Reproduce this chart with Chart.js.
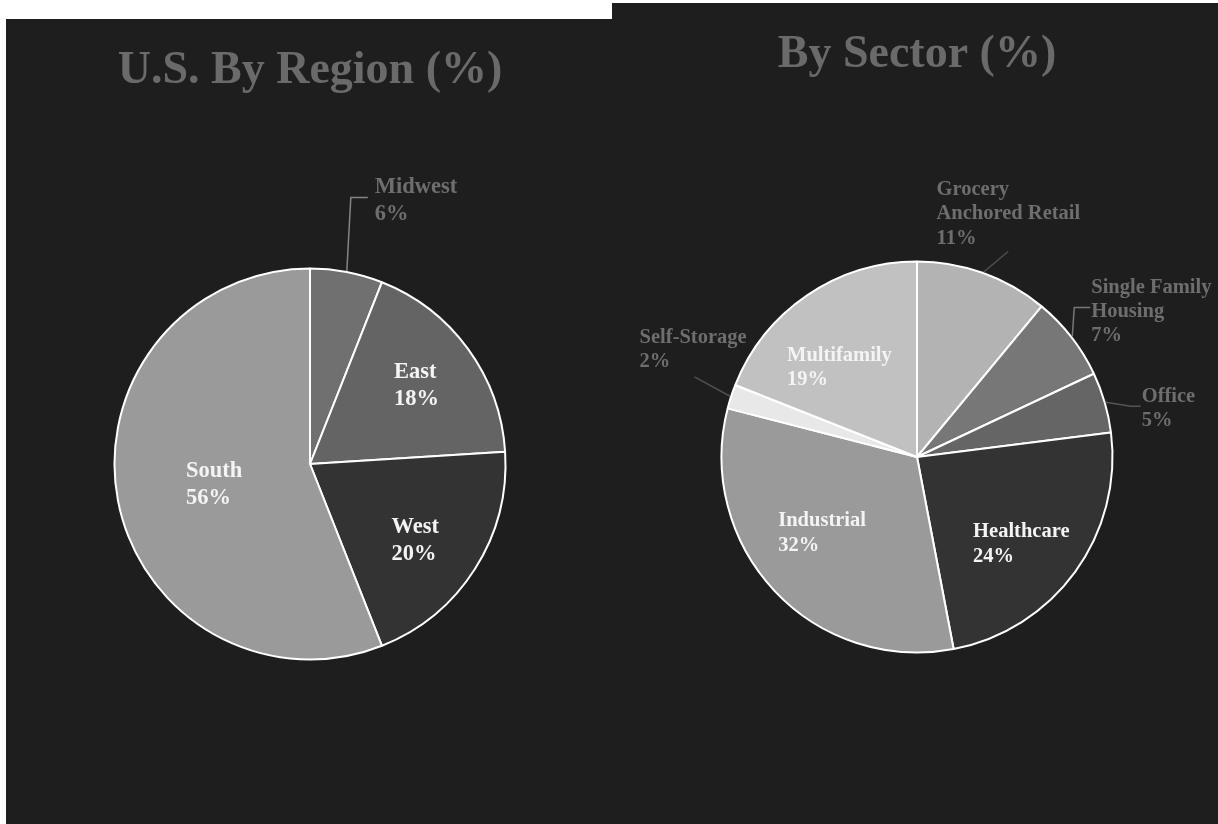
<!DOCTYPE html>
<html>
<head>
<meta charset="utf-8">
<script src="https://cdn.jsdelivr.net/npm/chart.js@4/dist/chart.umd.min.js"></script>
<style>
  html, body { margin: 0; padding: 0; background: #ffffff; width: 1218px; height: 824px; overflow: hidden; }
  .panel { position: absolute; background: #1e1e1e; }
  #p1 { left: 6px; top: 19px; width: 606px; height: 805px; }
  #p2 { left: 612px; top: 3px; width: 606px; height: 821px; }
  canvas { display: block; }
</style>
</head>
<body>
<div class="panel" id="p1"><canvas id="c1" width="606" height="805"></canvas></div>
<div class="panel" id="p2"><canvas id="c2" width="606" height="821"></canvas></div>
<script>
// ---- data ----
const regionTitle = 'U.S. By Region (%)';
const regionLabels = ['Midwest', 'East', 'West', 'South'];
const regionValues = [6, 18, 20, 56];
const regionColors = ['#707070', '#646464', '#333333', '#9a9a9a'];

const sectorTitle = 'By Sector (%)';
const sectorLabels = ['Grocery Anchored Retail', 'Single Family Housing', 'Office', 'Healthcare', 'Industrial', 'Self-Storage', 'Multifamily'];
const sectorLabelLines = [['Grocery', 'Anchored Retail'], ['Single Family', 'Housing'], ['Office'], ['Healthcare'], ['Industrial'], ['Self-Storage'], ['Multifamily']];
const sectorValues = [11, 7, 5, 24, 32, 2, 19];
const sectorColors = ['#b3b3b3', '#777777', '#656565', '#333333', '#9a9a9a', '#e8e8e8', '#c1c1c1'];

// ---- label styling (offsets relative to slice anchor) ----
const FONT = "'Liberation Serif', 'Times New Roman', serif";
const OUT_TEXT = '#6e6e6e';
const IN_TEXT = '#f4f4f4';

const regionLabelStyle = [
  { outside: true, dx: 28, dy: -78, lh: 27, leader: [[4, -73.5], [21, -73.5]], leaderColor: '#858585' },
  { outside: false, dx: 5, dy: -29, lh: 27 },
  { outside: false, dx: -1, dy: 17, lh: 27 },
  { outside: false, dx: -28, dy: -5, lh: 27 }
];
const sectorLabelStyle = [
  { outside: true, dx: -47, dy: -77.5, lh: 24.5, leader: [[24.6, -20.6]], leaderColor: '#4c4c4c' },
  { outside: true, dx: 19, dy: -44, lh: 24, leader: [[2, -29], [18, -29]], leaderColor: '#777777' },
  { outside: true, dx: 36, dy: 0, lh: 23.5, leader: [[25, 4], [35, 4]], leaderColor: '#555555' },
  { outside: false, dx: -23, dy: 22.5, lh: 25 },
  { outside: false, dx: -67.5, dy: 2, lh: 25.5 },
  { outside: true, dx: -90.5, dy: -53.5, lh: 24, leader: [[-35.6, -19.4]], leaderColor: '#505050' },
  { outside: false, dx: -75, dy: -15, lh: 24 }
];

const pieLabels = {
  id: 'pieLabels',
  afterDatasetsDraw(chart, args, opts) {
    const ctx = chart.ctx;
    const meta = chart.getDatasetMeta(0);
    const values = chart.data.datasets[0].data;
    ctx.save();
    meta.data.forEach((arc, i) => {
      const s = opts.styles[i];
      const p = arc.getProps(['x', 'y', 'startAngle', 'endAngle', 'outerRadius'], true);
      const mid = (p.startAngle + p.endAngle) / 2;
      let ax, ay;
      if (s.outside) {
        const R = p.outerRadius + 1;
        ax = p.x + Math.cos(mid) * R;
        ay = p.y + Math.sin(mid) * R;
        ctx.beginPath();
        ctx.moveTo(ax, ay);
        s.leader.forEach(pt => ctx.lineTo(ax + pt[0], ay + pt[1]));
        ctx.strokeStyle = s.leaderColor;
        ctx.lineWidth = 1.5;
        ctx.stroke();
      } else {
        const c = arc.tooltipPosition(true);
        ax = c.x; ay = c.y;
      }
      const lines = opts.lines[i].concat([values[i] + '%']);
      ctx.font = 'bold ' + opts.fontSize + 'px ' + FONT;
      ctx.fillStyle = s.outside ? OUT_TEXT : IN_TEXT;
      ctx.textAlign = 'left';
      ctx.textBaseline = 'alphabetic';
      lines.forEach((t, k) => ctx.fillText(t, ax + s.dx, ay + s.dy + k * s.lh));
    });
    ctx.restore();
  }
};

function makePie(id, title, labels, lines, values, colors, styles, fontSize, padLeft, titleBottom) {
  return new Chart(document.getElementById(id), {
    type: 'pie',
    data: {
      labels: labels,
      datasets: [{
        data: values,
        backgroundColor: colors,
        borderColor: '#ffffff',
        borderWidth: 2
      }]
    },
    options: {
      responsive: false,
      devicePixelRatio: 1,
      animation: false,
      radius: 195.5,
      layout: { padding: { left: padLeft, right: 0, top: 0, bottom: 0 } },
      plugins: {
        legend: { display: false },
        tooltip: { enabled: false },
        title: {
          display: true,
          text: title,
          color: '#6a6a6a',
          font: { family: FONT, size: 46, weight: 'bold', lineHeight: 1.2 },
          padding: { top: 24.4, bottom: titleBottom }
        },
        pieLabels: { styles: styles, lines: lines, fontSize: fontSize }
      }
    },
    plugins: [pieLabels]
  });
}

makePie('c1', regionTitle, regionLabels, regionLabels.map(l => [l]), regionValues, regionColors, regionLabelStyle, 22.5, 2, 5.4);
makePie('c2', sectorTitle, sectorLabels, sectorLabelLines, sectorValues, sectorColors, sectorLabelStyle, 20.5, 4, 7.4);
</script>
</body>
</html>
